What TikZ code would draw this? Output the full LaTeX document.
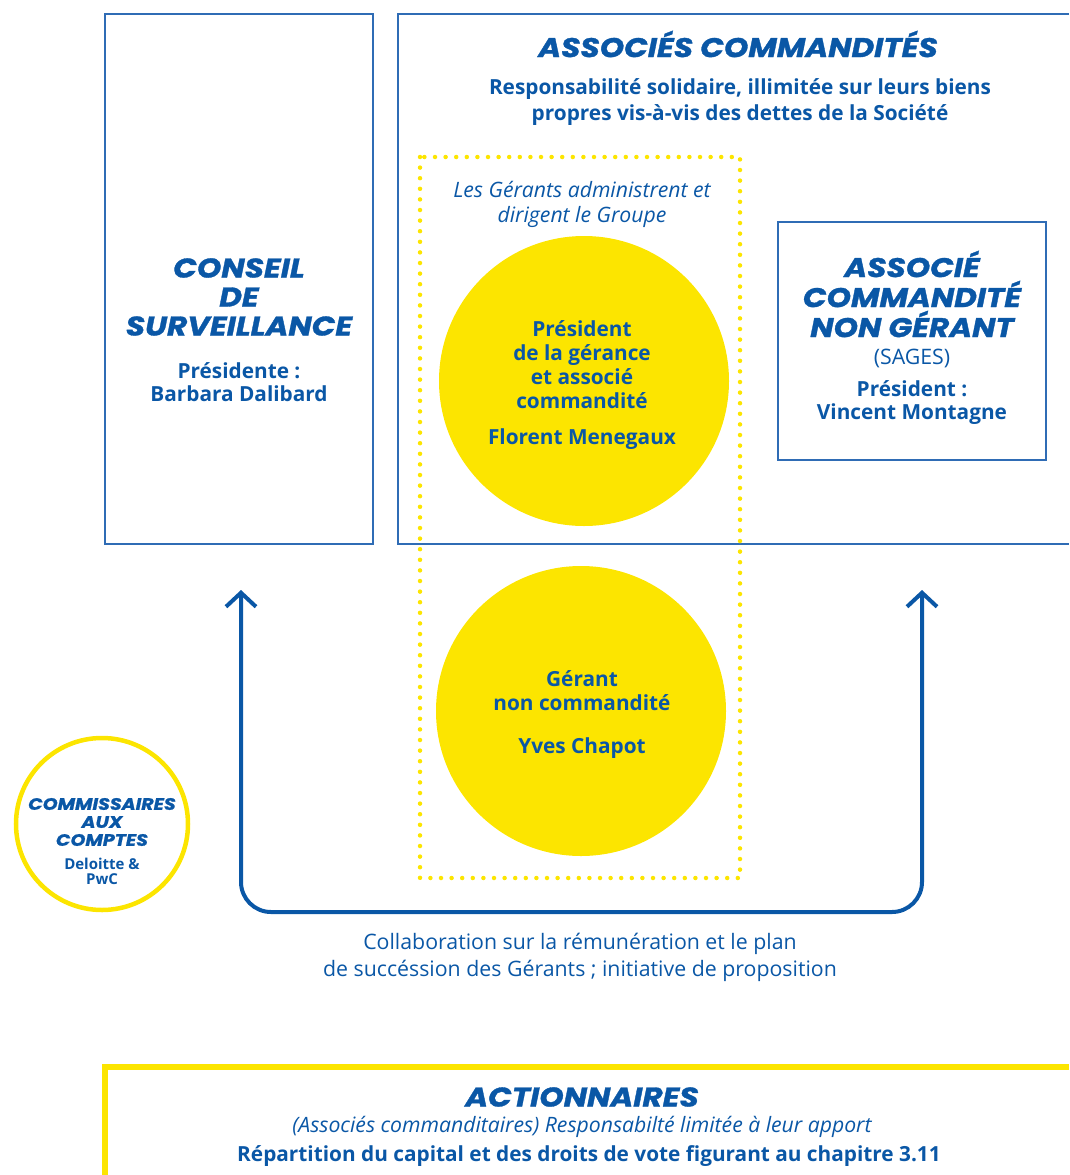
\documentclass[tikz,border=0pt]{standalone}
\usepackage{fontspec}
\setmainfont{Open Sans}
\newfontfamily\headfont{Poppins}[BoldItalicFeatures={FakeStretch=1.15,FakeBold=1.2}]
\usepackage{tikz}
\usetikzlibrary{arrows.meta,calc}

\definecolor{mblue}{HTML}{0A57A6}
\definecolor{lineblue}{HTML}{2F6CB5}
\definecolor{myellow}{HTML}{FCE500}

\begin{document}
\begin{tikzpicture}[x=1pt,y=-1pt,
    head/.style={font=\headfont\bfseries\itshape\fontsize{27}{29}\selectfont,text=mblue,align=center,inner sep=0pt},
    smallhead/.style={font=\headfont\bfseries\itshape\fontsize{16.5}{18}\selectfont,text=mblue,align=center,inner sep=0pt},
    bodyb/.style={font=\bfseries\fontsize{20.8}{24}\selectfont,text=mblue,align=center,inner sep=0pt},
    bodyr/.style={font=\fontsize{21.3}{27}\selectfont,text=mblue,align=center,inner sep=0pt},
    bodyi/.style={font=\itshape\fontsize{21.2}{25}\selectfont,text=mblue,align=center,inner sep=0pt},
    bluebox/.style={draw=lineblue,line width=1.5pt,inner sep=0pt},
    bubble/.style={circle,fill=myellow,minimum size=290pt,inner sep=0pt},
    link/.style={draw=mblue,line width=4pt,rounded corners=30pt,{Straight Barb[length=14pt,width=30pt]}-{Straight Barb[length=14pt,width=30pt]}}]
    \useasboundingbox (0,0) rectangle (1069,1175);

    % conseil de surveillance
    \node[bluebox,minimum width=268pt,minimum height=530pt] (conseil) at (239,279) {};
    \node[head] (conseilT) at (239,297) {CONSEIL\\DE\\SURVEILLANCE};
    \node[bodyb,font=\bfseries\fontsize{20.8}{23.5}\selectfont] (conseilP) at (239,382) {Présidente :\\Barbara Dalibard};

    % associes commandites (open to the right)
    \draw[lineblue,line width=1.5pt] (1069,14) -- (398,14) -- (398,544) -- (1069,544);
    \node[head] (assocT) at (738,44) {ASSOCIÉS COMMANDITÉS};
    \node[bodyb,font=\bfseries\fontsize{20.8}{26}\selectfont] (assocS) at (740,102) {Responsabilité solidaire, illimitée sur leurs biens\\propres vis-à-vis des dettes de la Société};

    % gerants
    \draw[myellow,line width=4.5pt,line cap=round,dash pattern=on 0pt off 10.6pt] (420,157) rectangle (740,878);
    \node[bodyi] (gerantsN) at (582,204) {Les Gérants administrent et\\dirigent le Groupe};

    \node[bubble] (pres) at (584,381) {};
    \node[bodyb] (presT) at (582,365) {Président\\de la gérance\\et associé\\commandité};
    \node[bodyb] (presN) at (582,439) {Florent Menegaux};

    \node[bubble] (gerant) at (581,711) {};
    \node[bodyb] (gerantT) at (582,691) {Gérant\\non commandité};
    \node[bodyb] (gerantN) at (582,748) {Yves Chapot};

    % associe non gerant
    \node[bluebox,minimum width=268pt,minimum height=238pt] (sages) at (912,341) {};
    \node[head,font=\headfont\bfseries\itshape\fontsize{27}{30}\selectfont] (sagesT) at (912,294) {ASSOCIÉ\\COMMANDITÉ\\NON GÉRANT};
    \node[bodyr] (sagesR) at (912,358) {(SAGES)};
    \node[bodyb,font=\bfseries\fontsize{20.8}{23.5}\selectfont] (sagesP) at (912,402.5) {Président :\\Vincent Montagne};

    % collaboration
    \coordinate (tipL) at (241,590);
    \coordinate (tipR) at (922,590);
    \coordinate (base) at (922,912);
    \draw[link] (tipL) |- (base) -- (tipR);
    \node[bodyr] (collab) at (580,957) {Collaboration sur la rémunération et le plan\\de succéssion des Gérants ; initiative de proposition};

    % commissaires aux comptes
    \node[circle,draw=myellow,line width=4.5pt,minimum size=172pt,inner sep=0pt] (cac) at (102,824) {};
    \node[smallhead] (cacT) at (102,822) {COMMISSAIRES\\AUX\\COMPTES};
    \node[bodyb,font=\bfseries\fontsize{15}{15}\selectfont] (cacN) at (102,871) {Deloitte \&\\PwC};

    % actionnaires (open to the right and bottom)
    \draw[myellow,line width=6pt] (1069,1067) -- (105,1067) -- (105,1175);
    \node[head] (actT) at (582,1097) {ACTIONNAIRES};
    \node[bodyi] (actS) at (582,1127) {(Associés commanditaires) Responsabilté limitée à leur apport};
    \node[bodyb] (actR) at (589,1156) {Répartition du capital et des droits de vote figurant au chapitre 3.11};
\end{tikzpicture}
\end{document}
